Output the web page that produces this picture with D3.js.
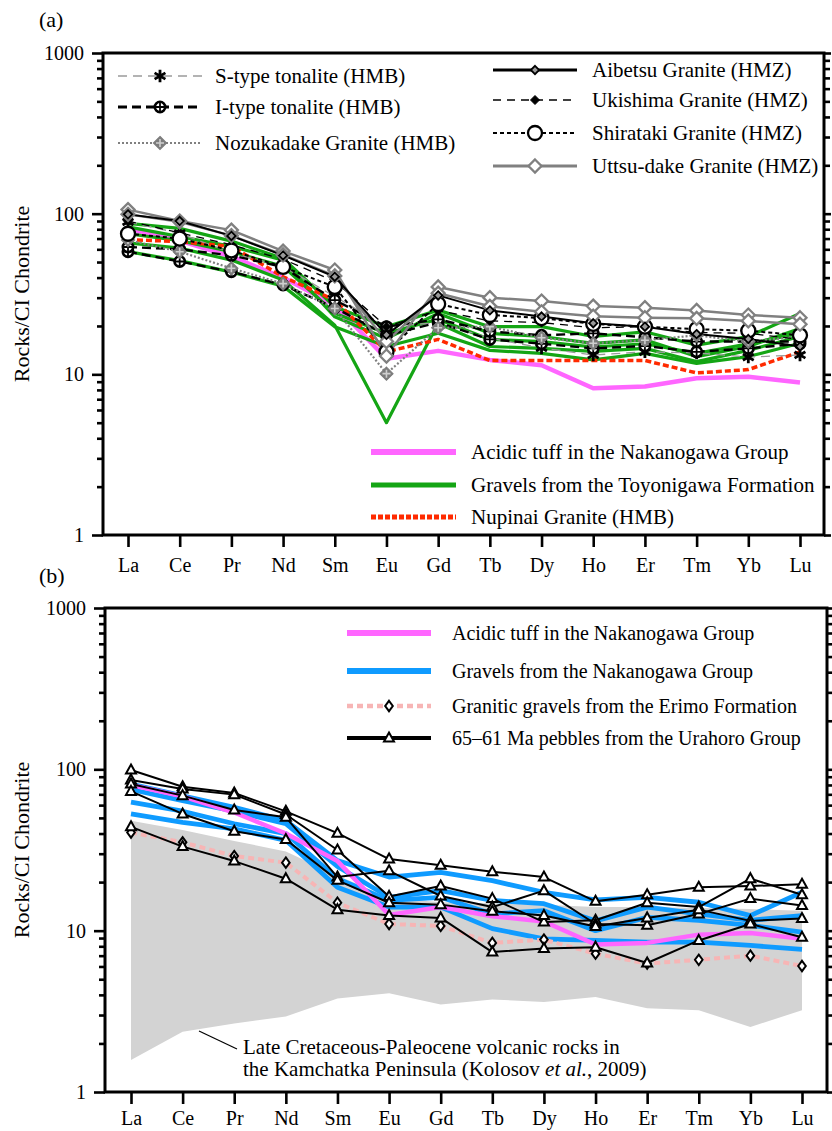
<!DOCTYPE html>
<html>
<head>
<meta charset="utf-8">
<script src="https://cdn.jsdelivr.net/npm/d3@7"></script>
<style>
  body { margin: 0; background: #fff; }
  svg { display: block; }
  text { font-family: "Liberation Serif", "Times New Roman", serif; fill: #000; }
</style>
</head>
<body>
<svg id="chart" width="832" height="1131"></svg>
<script>
// Rare earth elements, chondrite-normalised (CI)
const elements = ["La","Ce","Pr","Nd","Sm","Eu","Gd","Tb","Dy","Ho","Er","Tm","Yb","Lu"];
const majorTicks = [1, 10, 100, 1000];

// ---- Panel (a) ----
const acidicTuff = [80, 68, 54, 40, 27, 12.5, 14, 12.3, 11.4, 8.2, 8.4, 9.45, 9.67, 8.9];

const toyonigawaGravels = [
  [87, 81, 67.5, 52.7, 26.3, 19.8, 25.1, 19.8, 19.8, 17.2, 18.4, 15.2, 17.2, 23.9],
  [82.7, 72, 62.6, 51.4, 22.8, 16.7, 23.9, 18.0, 17.2, 15.6, 16.4, 12.9, 14.9, 19.3],
  [65.8, 61, 51.4, 38.7, 20.2, 5.0, 20.8, 14.9, 14.5, 13.9, 14.5, 12.0, 14.1, 17.2],
  [58, 51, 43.3, 35.4, 19.8, 14.9, 18.0, 14.1, 13.5, 12.3, 13.5, 11.7, 12.9, 15.6],
  [75, 68, 58, 47, 24, 18, 22, 16.5, 16, 14.8, 15.5, 13.5, 15.5, 18]
];

const nupinaiGranite = [69, 67, 62.5, 40.5, 29, 13.8, 16.5, 12.2, 12.2, 12.2, 12.2, 10.2, 10.7, 13.8];

const sTypeTonalite = [
  [89, 75.5, 57, 47, 30.5, 19.8, 21, 16.8, 14.6, 13.2, 13.8, 13.6, 12.8, 13.2]
];
const iTypeTonalite = [
  [58, 50.4, 43.5, 36, 26, 17.5, 21, 16.5, 15.5, 14.5, 15, 13.8, 14.5, 15.5],
  [62, 60, 55, 46.5, 29, 19.8, 22, 18.5, 17.5, 18, 17, 16, 16, 16]
];
const nozukadakeGranite = [
  [68.5, 58, 45.7, 36.7, 25.7, 10.1, 19.5, 19.8, 16.9, 15.6, 16.3, 17.5, 16, 17.2]
];
const aibetsuGranite = [
  [99, 90, 72.7, 55, 40.5, 17.6, 31, 25, 22.9, 20.8, 19.8, 17.8, 16.6, 14.9]
];
const ukishimaGranite = [
  [90, 76, 64, 52, 38, 19.8, 25, 21.5, 21, 19.5, 19.8, 18.2, 18, 16.5]
];
const shiratakiGranite = [
  [75, 70, 59, 46.6, 35, 13.8, 27.4, 23.4, 22.4, 20.6, 19.8, 19.1, 18.7, 17.5]
];
const uttsudakeGranite = [
  [106, 90, 79, 58.5, 44.6, 13, 35, 30, 28.6, 26.6, 26, 25, 23.4, 22.5],
  [99, 89, 73, 55.5, 41, 16, 32, 26.5, 24.5, 23, 22.5, 22.3, 21.5, 20.5]
];

// ---- Panel (b) ----
const nakanogawaGravels = [
  [81, 68.6, 58.1, 48, 27.2, 21.5, 23, 20.4, 17.3, 15.5, 16.1, 15.0, 12.4, 17.3],
  [75, 64, 55, 46, 25, 16.1, 17.7, 15.4, 14.7, 11.5, 14.0, 12.7, 11.6, 12.4],
  [62.6, 55, 46, 40, 21, 15.4, 16.1, 12.7, 13.3, 10.0, 12.1, 11.6, 10.8, 9.8],
  [52.9, 46.9, 42.8, 36.3, 18.6, 14.0, 14.0, 10.3, 8.9, 8.7, 8.5, 8.5, 8.1, 7.65]
];
const erimoGravels = [40.6, 35.3, 29, 26.4, 14.9, 11.0, 10.7, 8.4, 8.8, 7.2, 6.25, 6.6, 7.0, 6.04];
const urahoroPebbles = [
  [99, 78, 71.3, 54.9, 40.2, 27.8, 25.4, 23.2, 21.5, 15.2, 16.7, 18.6, 18.9, 19.4],
  [86, 75.5, 69.7, 52.5, 31.6, 16.3, 18.9, 15.8, 11.3, 11.6, 14.9, 14.0, 21.0, 16.7],
  [81, 68.7, 56, 50.4, 21.5, 23.5, 16.4, 14.0, 17.7, 11.0, 10.8, 12.7, 15.8, 14.3],
  [73, 52.9, 41.3, 36.7, 20.5, 14.9, 14.5, 13.2, 12.4, 10.6, 12.0, 13.5, 11.5, 11.9],
  [44, 33.2, 27, 21, 13.5, 12.4, 12.0, 7.37, 7.76, 7.9, 6.3, 8.7, 11.0, 9.1]
];
// Kamchatka Late Cretaceous–Paleocene volcanic field (envelope)
const kamchatkaUpper = [48, 42, 36, 31, 22, 16, 15, 14.8, 14.5, 14, 14, 13.8, 13.6, 13.3];
const kamchatkaLower = [1.58, 2.36, 2.66, 2.94, 3.8, 4.1, 3.49, 3.75, 3.61, 3.88, 3.31, 3.21, 2.53, 3.21];

const svg = d3.select("#chart");

// ---------- marker glyphs ----------
function drawMarker(g, type, cx, cy) {
  const m = g.append("g").attr("transform", `translate(${cx},${cy})`);
  const diamond = (w, h) => `M0,${-h}L${w},0L0,${h}L${-w},0Z`;
  switch (type) {
    case "asterisk":
      m.append("path").attr("d", d3.symbol(d3.symbolAsterisk, 110)())
        .attr("fill", "none").attr("stroke", "#000").attr("stroke-width", 2.8);
      break;
    case "circlePlus":
      m.append("circle").attr("r", 5.2).attr("fill", "#fff").attr("stroke", "#000").attr("stroke-width", 2.6);
      m.append("path").attr("d", "M-5,0H5M0,-5V5").attr("stroke", "#000").attr("stroke-width", 1.8);
      break;
    case "diamondPlus":
      m.append("path").attr("d", diamond(6.5, 6.5)).attr("fill", "#7c7c7c").attr("stroke", "#7c7c7c").attr("stroke-width", 1.2);
      m.append("path").attr("d", "M-4,0H4M0,-4V4").attr("stroke", "#cfcfcf").attr("stroke-width", 1.6);
      break;
    case "diamondSmall":
      m.append("path").attr("d", diamond(4.2, 4.2)).attr("fill", "#9a9a9a").attr("stroke", "#000").attr("stroke-width", 1.8);
      break;
    case "diamondBlack":
      m.append("path").attr("d", diamond(4.5, 4.5)).attr("fill", "#000").attr("stroke", "#000").attr("stroke-width", 1);
      break;
    case "circleWhite":
      m.append("circle").attr("r", 7).attr("fill", "#fff").attr("stroke", "#000").attr("stroke-width", 2.3);
      break;
    case "diamondWhiteGrey":
      m.append("path").attr("d", diamond(6.5, 6.5)).attr("fill", "#fff").attr("stroke", "#808080").attr("stroke-width", 2.3);
      break;
    case "diamondWhite":
      m.append("path").attr("d", diamond(3.8, 5.2)).attr("fill", "#fff").attr("stroke", "#000").attr("stroke-width", 2);
      break;
    case "triangle":
      m.append("path").attr("d", "M0,-5.5L5,3.5L-5,3.5Z").attr("fill", "#fff").attr("stroke", "#000").attr("stroke-width", 2);
      break;
  }
}

// ---------- frame and axes ----------
function drawFrame(g, x, y, box, labelPad) {
  const minor = [];
  for (let e = 0; e < 3; e++) for (let k = 2; k <= 9; k++) minor.push(k * Math.pow(10, e));

  const styleTicks = sel => {
    sel.select(".domain").remove();
    sel.selectAll(".tick line").attr("stroke", "#000").attr("stroke-width", 2.6);
  };

  // left: minor, then major with labels
  g.append("g").attr("transform", `translate(${box.left},0)`)
    .call(d3.axisLeft(y).tickValues(minor).tickSize(6).tickFormat(""))
    .call(styleTicks);
  g.append("g").attr("transform", `translate(${box.left},0)`)
    .call(d3.axisLeft(y).tickValues(majorTicks).tickSize(11).tickPadding(8).tickFormat(d3.format("d")))
    .call(styleTicks)
    .call(s => s.selectAll("text").attr("font-size", 20).attr("font-family", "Liberation Serif").attr("dy", "0.33em"));

  // right: ticks only
  g.append("g").attr("transform", `translate(${box.right},0)`)
    .call(d3.axisRight(y).tickValues(minor).tickSize(6).tickFormat(""))
    .call(styleTicks);
  g.append("g").attr("transform", `translate(${box.right},0)`)
    .call(d3.axisRight(y).tickValues(majorTicks).tickSize(7).tickFormat(""))
    .call(styleTicks);

  // bottom: element names
  g.append("g").attr("transform", `translate(0,${box.bottom})`)
    .call(d3.axisBottom(x).tickSize(12).tickPadding(labelPad))
    .call(styleTicks)
    .call(s => s.selectAll("text").attr("font-size", 20).attr("font-family", "Liberation Serif"));

  // box outline
  g.append("rect")
    .attr("x", box.left).attr("y", box.top)
    .attr("width", box.right - box.left).attr("height", box.bottom - box.top)
    .attr("fill", "none").attr("stroke", "#000").attr("stroke-width", 3);
}

function drawSeries(gLines, gMarks, x, y, spec) {
  const path = d3.line().x((d, i) => x(elements[i])).y(d => y(d));
  spec.rows.forEach(row => {
    gLines.append("path").datum(row).attr("d", path)
      .attr("fill", "none").attr("stroke", spec.stroke)
      .attr("stroke-width", spec.width)
      .attr("stroke-dasharray", spec.dash || null)
      .attr("stroke-linejoin", "round");
    if (spec.marker) {
      row.forEach((v, i) => drawMarker(gMarks, spec.marker, x(elements[i]), y(v)));
    }
  });
}

function legendItem(g, x0, x1, cy, textX, label, spec, fontSize) {
  g.append("line").attr("x1", x0).attr("x2", x1).attr("y1", cy).attr("y2", cy)
    .attr("stroke", spec.stroke).attr("stroke-width", spec.lw || spec.width)
    .attr("stroke-dasharray", spec.dash || null);
  if (spec.marker) drawMarker(g, spec.marker, (x0 + x1) / 2, cy);
  g.append("text").attr("x", textX).attr("y", cy + 7).attr("font-size", fontSize || 21).text(label);
}

function yTitle(g, cy) {
  g.append("text")
    .attr("transform", `translate(29,${cy}) rotate(-90)`)
    .attr("text-anchor", "middle")
    .attr("font-size", 22)
    .text("Rocks/CI Chondrite");
}

// ================= Panel (a) =================
{
  const box = { left: 103, right: 824, top: 53, bottom: 535 };
  const x = d3.scalePoint().domain(elements).range([128, 800]);
  const y = d3.scaleLog().domain([1, 1000]).range([box.bottom, box.top]);
  const g = svg.append("g");

  const S = {
    tuff:   { rows: [acidicTuff], stroke: "#ff66ff", width: 4.5, lw: 6 },
    green:  { rows: toyonigawaGravels, stroke: "#14a514", width: 3.2, lw: 5 },
    nup:    { rows: [nupinaiGranite], stroke: "#ff2a00", width: 3.5, dash: "6,3", lw: 5 },
    stype:  { rows: sTypeTonalite, stroke: "#9a9a9a", width: 1.3, dash: "9,6", marker: "asterisk" },
    itype:  { rows: iTypeTonalite, stroke: "#000", width: 2.4, dash: "9,5", marker: "circlePlus", lw: 2.8 },
    nozu:   { rows: nozukadakeGranite, stroke: "#808080", width: 2.2, dash: "2,2", marker: "diamondPlus" },
    ukishi: { rows: ukishimaGranite, stroke: "#000", width: 1.3, dash: "8,6", marker: "diamondBlack" },
    shira:  { rows: shiratakiGranite, stroke: "#000", width: 2, dash: "4,3", marker: "circleWhite" },
    uttsu:  { rows: uttsudakeGranite, stroke: "#808080", width: 2.5, marker: "diamondWhiteGrey", lw: 3 },
    aibe:   { rows: aibetsuGranite, stroke: "#000", width: 2, marker: "diamondSmall", lw: 3 }
  };

  const gLines = g.append("g"), gMarks = g.append("g");
  ["tuff", "green", "nup", "stype", "itype", "nozu", "ukishi", "shira", "uttsu", "aibe"]
    .forEach(k => drawSeries(gLines, gMarks, x, y, S[k]));

  drawFrame(g, x, y, box, 11);
  yTitle(g, (box.top + box.bottom) / 2);

  g.append("text").attr("x", 39).attr("y", 27).attr("font-size", 22).text("(a)");

  const lg = g.append("g");
  legendItem(lg, 118, 202, 76, 215, "S-type tonalite (HMB)", S.stype);
  legendItem(lg, 118, 202, 107, 215, "I-type tonalite (HMB)", S.itype);
  legendItem(lg, 118, 202, 143, 215, "Nozukadake Granite (HMB)", S.nozu);
  legendItem(lg, 493, 577, 70, 592, "Aibetsu Granite (HMZ)", S.aibe);
  legendItem(lg, 493, 577, 100, 592, "Ukishima Granite (HMZ)", S.ukishi);
  legendItem(lg, 493, 577, 133, 592, "Shirataki Granite (HMZ)", S.shira);
  legendItem(lg, 493, 577, 166, 592, "Uttsu-dake Granite (HMZ)", S.uttsu);
  legendItem(lg, 371, 456, 452, 471, "Acidic tuff in the Nakanogawa Group", S.tuff);
  legendItem(lg, 371, 456, 485, 471, "Gravels from the Toyonigawa Formation", S.green);
  legendItem(lg, 371, 456, 517, 471, "Nupinai Granite (HMB)", { stroke: "#ff2a00", width: 5, dash: "5,2" });
}

// ================= Panel (b) =================
{
  const box = { left: 105, right: 827, top: 608, bottom: 1092 };
  const x = d3.scalePoint().domain(elements).range([131, 802]);
  const y = d3.scaleLog().domain([1, 1000]).range([box.bottom, box.top]);
  const g = svg.append("g");

  // envelope of Kamchatka volcanic rocks
  const band = d3.area()
    .x((d, i) => x(elements[i]))
    .y0((d, i) => y(kamchatkaLower[i]))
    .y1(d => y(d));
  g.append("path").datum(kamchatkaUpper).attr("d", band).attr("fill", "#d3d3d3");

  const S = {
    blue:  { rows: nakanogawaGravels, stroke: "#0f9bff", width: 4.8, lw: 6 },
    tuff:  { rows: [acidicTuff], stroke: "#ff66ff", width: 4.5, lw: 6 },
    erimo: { rows: [erimoGravels], stroke: "#f7b5b5", width: 4, dash: "6,4", marker: "diamondWhite", lw: 4.5 },
    ura:   { rows: urahoroPebbles, stroke: "#000", width: 2, marker: "triangle", lw: 4 }
  };
  const gLines = g.append("g"), gMarks = g.append("g");
  ["blue", "tuff", "erimo", "ura"].forEach(k => drawSeries(gLines, gMarks, x, y, S[k]));

  drawFrame(g, x, y, box, 7);
  yTitle(g, (box.top + box.bottom) / 2);

  g.append("text").attr("x", 39).attr("y", 583).attr("font-size", 22).text("(b)");

  const lg = g.append("g");
  legendItem(lg, 347, 431, 633, 452, "Acidic tuff in the Nakanogawa Group", S.tuff, 20);
  legendItem(lg, 347, 431, 671, 452, "Gravels from the Nakanogawa Group", S.blue, 20);
  legendItem(lg, 347, 431, 706, 452, "Granitic gravels from the Erimo Formation", S.erimo, 20);
  legendItem(lg, 347, 431, 738, 452, "65\u201361 Ma pebbles from the Urahoro Group", S.ura, 20);

  // annotation for the grey envelope
  g.append("line").attr("x1", 199).attr("y1", 1031).attr("x2", 237).attr("y2", 1049)
    .attr("stroke", "#000").attr("stroke-width", 1.2);
  g.append("text").attr("x", 243).attr("y", 1054).attr("font-size", 21)
    .text("Late Cretaceous-Paleocene volcanic rocks in");
  const t2 = g.append("text").attr("x", 243).attr("y", 1076).attr("font-size", 21);
  t2.append("tspan").text("the Kamchatka Peninsula (Kolosov ");
  t2.append("tspan").attr("font-style", "italic").text("et al.");
  t2.append("tspan").text(", 2009)");
}
</script>
</body>
</html>
